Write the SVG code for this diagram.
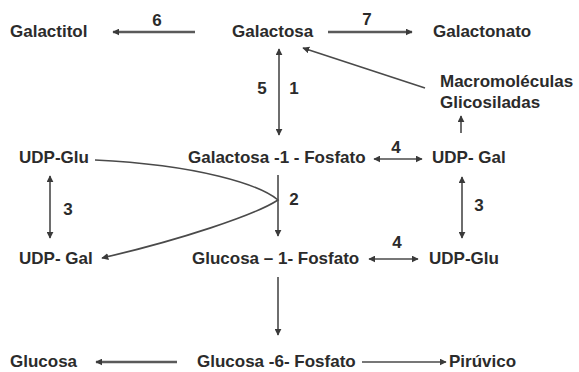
<svg xmlns="http://www.w3.org/2000/svg" width="579" height="372" viewBox="0 0 579 372">
<style>
text{font-family:"Liberation Sans",Arial,sans-serif;font-weight:bold;font-size:17px;fill:#2b2b2b}
.lbl{text-anchor:middle}
.c{fill:none;stroke:#4a4a4a;stroke-width:1.6}
.t{fill:none;stroke:#5a5a5a;stroke-width:2.6}
</style>
<defs>
<marker id="ah" viewBox="0 0 10 10" refX="9" refY="5" markerWidth="7" markerHeight="7" markerUnits="userSpaceOnUse" orient="auto-start-reverse">
<path d="M0,0 L10,5 L0,10 z" fill="#3a3a3a"/>
</marker>
</defs>
<rect width="579" height="372" fill="#fff"/>
<g id="n-galactitol"><text x="10" y="37">Galactitol</text></g>
<g id="n-galactosa"><text x="232" y="37">Galactosa</text></g>
<g id="n-galactonato"><text x="433" y="37">Galactonato</text></g>
<g id="n-macro"><text x="440" y="87">Macromoléculas</text><text x="440" y="108">Glicosiladas</text></g>
<g id="n-udpglu-l"><text x="19" y="163">UDP-Glu</text></g>
<g id="n-gal1p"><text x="188" y="163">Galactosa -1 - Fosfato</text></g>
<g id="n-udpgal-r"><text x="432" y="163">UDP- Gal</text></g>
<g id="n-udpgal-l"><text x="19" y="264">UDP- Gal</text></g>
<g id="n-glc1p"><text x="192" y="264">Glucosa – 1- Fosfato</text></g>
<g id="n-udpglu-r"><text x="429" y="264">UDP-Glu</text></g>
<g id="n-glucosa"><text x="10" y="367">Glucosa</text></g>
<g id="n-glc6p"><text x="197" y="367">Glucosa -6- Fosfato</text></g>
<g id="n-piruvico"><text x="449" y="367">Pirúvico</text></g>
<g id="connectors">
<line class="t" x1="195" y1="32" x2="113" y2="32" marker-end="url(#ah)"/>
<line class="t" x1="328" y1="32" x2="412" y2="32" marker-end="url(#ah)"/>
<line class="c" x1="279" y1="135" x2="279" y2="49" marker-start="url(#ah)" marker-end="url(#ah)"/>
<line class="c" x1="425" y1="88" x2="303" y2="48" marker-end="url(#ah)"/>
<line class="c" x1="461" y1="133" x2="461" y2="116" marker-end="url(#ah)"/>
<line class="c" x1="374" y1="159" x2="422" y2="159" marker-start="url(#ah)" marker-end="url(#ah)"/>
<line class="c" x1="462" y1="177" x2="462" y2="238" marker-start="url(#ah)" marker-end="url(#ah)"/>
<line class="c" x1="369" y1="259" x2="418" y2="259" marker-start="url(#ah)" marker-end="url(#ah)"/>
<line class="c" x1="50" y1="176" x2="50" y2="238" marker-start="url(#ah)" marker-end="url(#ah)"/>
<path class="c" d="M95,160 C200,165 260,185 278,200 C255,215 180,240 102,258" marker-end="url(#ah)"/>
<line class="c" x1="278" y1="175" x2="278" y2="236" marker-end="url(#ah)"/>
<line class="c" x1="278" y1="277" x2="278" y2="335" marker-end="url(#ah)"/>
<line class="t" x1="177" y1="362" x2="96" y2="362" marker-end="url(#ah)"/>
<line class="c" x1="362" y1="362" x2="446" y2="362" marker-end="url(#ah)"/>
<text class="lbl" x="157" y="26">6</text>
<text class="lbl" x="367" y="25">7</text>
<text class="lbl" x="262" y="94">5</text>
<text class="lbl" x="294" y="94">1</text>
<text class="lbl" x="396" y="153">4</text>
<text class="lbl" x="294" y="205">2</text>
<text class="lbl" x="68" y="215">3</text>
<text class="lbl" x="479" y="211">3</text>
<text class="lbl" x="397" y="248">4</text>
</g>
</svg>
